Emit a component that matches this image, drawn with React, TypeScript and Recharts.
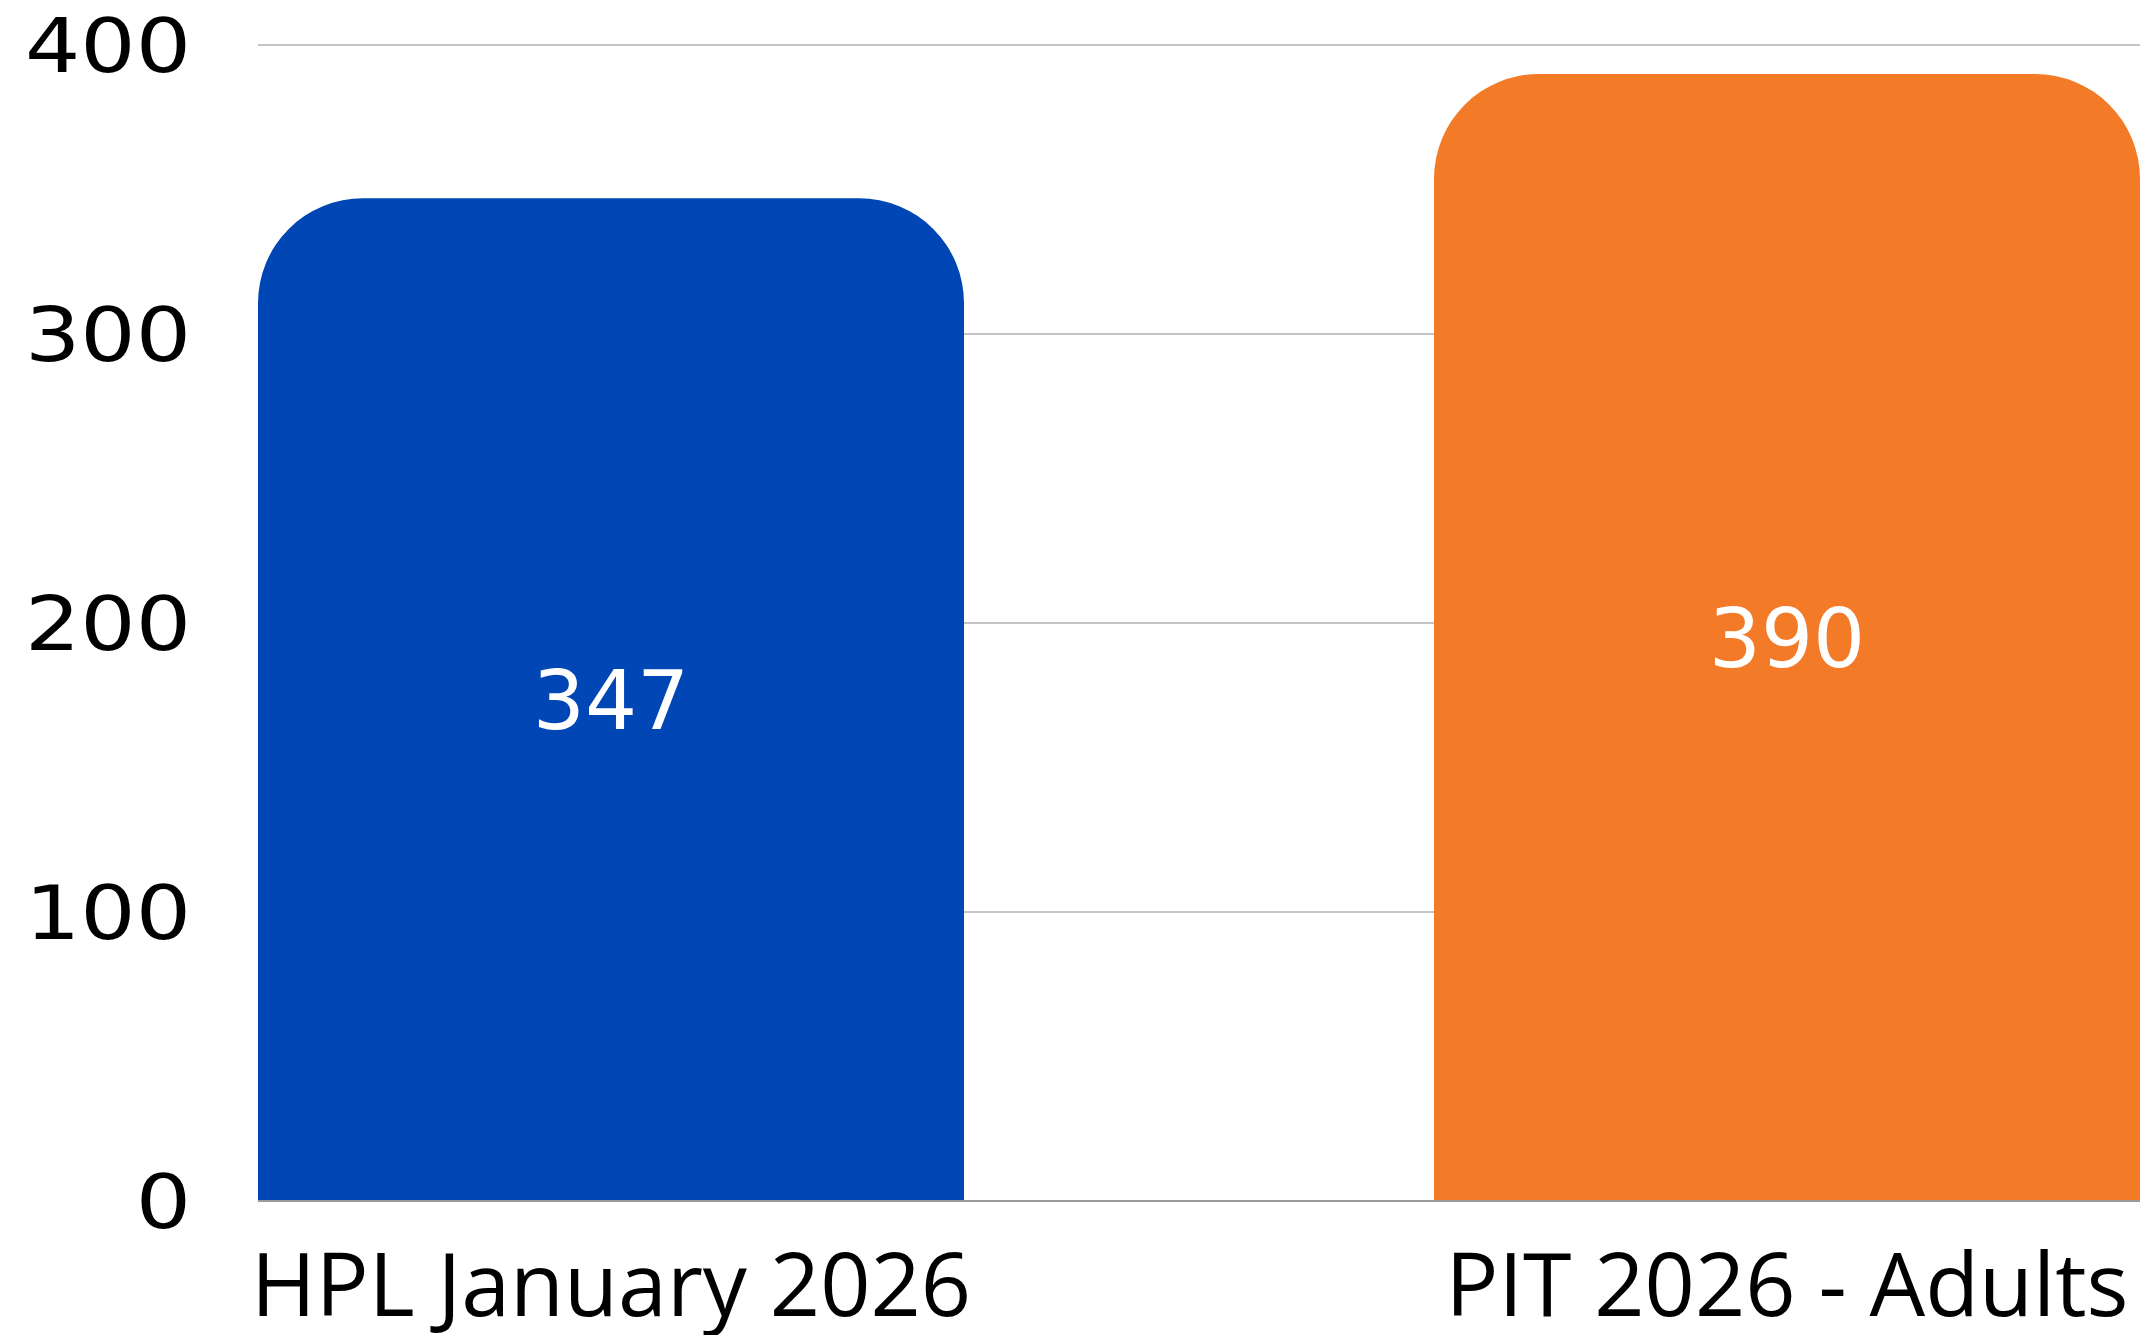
import { BarChart, Bar, XAxis, YAxis, CartesianGrid, Cell, LabelList } from 'recharts';

const categories = ['HPL January 2026', 'PIT 2026 - Adults'];
const values = [347, 390];
const colors = ['#0046B4', '#F37A26'];
const yTicks = [0, 100, 200, 300, 400];

const data = categories.map((name, i) => ({ name, value: values[i] }));

const labelFont = '"Open Sans", sans-serif';
const numFont = '"DejaVu Sans", sans-serif';

// y tick text is a bit wider than any installed font, so stretch it
const YTick = ({ x, y, payload }: any) => (
    <text
        x={x}
        y={y}
        dy="0.355em"
        textAnchor="end"
        fill="#000"
        fontSize={75}
        fontFamily={numFont}
        transform={`translate(${x},0) scale(1.16,1) translate(${-x},0)`}
    >
        {payload.value}
    </text>
);

const App = () => {
    return (
        <div style={{ width: 2140, height: 1335, background: '#fff' }}>
            <style>{`body { margin: 0; }`}</style>
            <BarChart
                width={2140}
                height={1335}
                data={data}
                margin={{ top: 45, right: 0, left: 0, bottom: 0 }}
                barSize={706}
            >
                <CartesianGrid vertical={false} stroke="#c4c4c4" strokeWidth={2} />
                <XAxis
                    dataKey="name"
                    height={134}
                    padding={{ left: -235, right: -235 }}
                    tickSize={0}
                    tickMargin={53}
                    axisLine={{ stroke: '#9a9a9a', strokeWidth: 2 }}
                    tick={{ fill: '#000', fontSize: 88, fontFamily: labelFont }}
                    interval={0}
                />
                <YAxis
                    width={258}
                    domain={[0, 400]}
                    ticks={yTicks}
                    axisLine={false}
                    tickSize={0}
                    tickMargin={67}
                    tick={<YTick />}
                />
                <Bar dataKey="value" isAnimationActive={false} radius={[105, 105, 0, 0]}>
                    {data.map((d, i) => (
                        <Cell key={d.name} fill={colors[i]} />
                    ))}
                    <LabelList dataKey="value" position="center" fill="#fff" fontSize={82} fontFamily={numFont} />
                </Bar>
            </BarChart>
        </div>
    );
};

export default App;
